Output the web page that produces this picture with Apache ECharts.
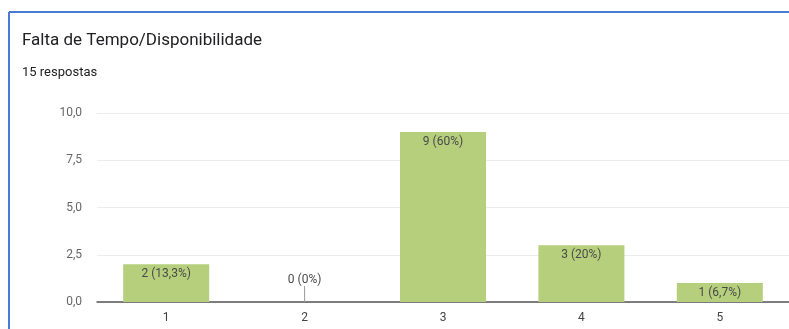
<!DOCTYPE html>
<html>
<head>
<meta charset="utf-8">
<script src="https://cdn.jsdelivr.net/npm/echarts@6/dist/echarts.min.js"></script>
<style>
  html, body { margin: 0; padding: 0; background: #fff; }
  #chart { width: 789px; height: 329px; }
</style>
</head>
<body>
<div id="chart"></div>
<script>
const categories = ["1", "2", "3", "4", "5"];
const counts = [2, 0, 9, 3, 1];
const labels = ["2 (13,3%)", "0 (0%)", "9 (60%)", "3 (20%)", "1 (6,7%)"];
const yTicks = [0, 2.5, 5, 7.5, 10];

const chart = echarts.init(document.getElementById("chart"), null, { renderer: "canvas" });

const option = {
  animation: false,
  backgroundColor: "#ffffff",
  title: {
    text: "Falta de Tempo/Disponibilidade",
    subtext: "15 respostas",
    left: 17,
    top: 27,
    itemGap: 17,
    textStyle: { fontFamily: "Roboto", fontSize: 17, fontWeight: "normal", color: "#202124" },
    subtextStyle: { fontFamily: "Roboto", fontSize: 13, color: "#202124" },
  },
  graphic: [
    { type: "line", shape: { x1: 9, y1: 12, x2: 789, y2: 12 }, style: { stroke: "#4a7bd4", lineWidth: 2 } },
    { type: "line", shape: { x1: 9, y1: 12, x2: 9, y2: 329 }, style: { stroke: "#4a7bd4", lineWidth: 2 } },
  ],
  grid: { left: 97, right: -8, top: 113, bottom: 27, containLabel: false },
  xAxis: {
    type: "category",
    data: categories,
    axisLine: { lineStyle: { color: "#555", width: 1.5 } },
    axisTick: { show: false },
    axisLabel: { color: "#444", fontFamily: "Roboto", fontSize: 12, margin: 10 },
  },
  yAxis: {
    type: "value",
    min: yTicks[0],
    max: yTicks[yTicks.length - 1],
    interval: 2.5,
    axisLine: { show: false },
    axisTick: { show: false },
    splitLine: { lineStyle: { color: "#ececec" } },
    axisLabel: {
      color: "#666",
      fontFamily: "Roboto",
      fontSize: 12,
      margin: 15,
      formatter: (v) => v.toFixed(1).replace(".", ","),
    },
  },
  series: [
    {
      type: "bar",
      barWidth: 86,
      data: counts.map((v, i) =>
        v === 0
          ? {
              value: v,
              label: { position: "top", distance: 2 },
              labelLine: { show: true, lineStyle: { color: "#999", width: 1 } },
            }
          : v
      ),
      itemStyle: { color: "#b5cf7c" },
      label: {
        show: true,
        position: "insideTop",
        distance: 4,
        color: "#4a4a4a",
        fontFamily: "Roboto",
        fontSize: 12,
        formatter: (p) => labels[p.dataIndex],
      },
      labelLayout: (params) => (params.dataIndex === 1 ? { dy: -14 } : {}),
    },
  ],
};

chart.setOption(option);
</script>
</body>
</html>
